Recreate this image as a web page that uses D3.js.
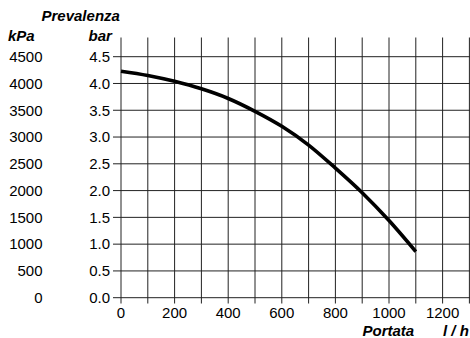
<!DOCTYPE html>
<html><head><meta charset="utf-8">
<script src="https://cdn.jsdelivr.net/npm/d3@7"></script>
<style>body{margin:0;background:#fff}svg{display:block}text{font-family:"Liberation Sans",Arial,sans-serif}</style>
</head><body>
<script>
const flow = [0,100,200,300,400,500,600,700,800,900,1000,1100];
const pressureBar = [4.23,4.15,4.04,3.9,3.72,3.48,3.2,2.85,2.42,1.96,1.44,0.86];
const barTicks = [0,0.5,1.0,1.5,2.0,2.5,3.0,3.5,4.0,4.5];
const kpaTicks = [0,500,1000,1500,2000,2500,3000,3500,4000,4500];
const xGrid = [0,100,200,300,400,500,600,700,800,900,1000,1100,1200,1300];
const xLabels = [0,200,400,600,800,1000,1200];

const W=470,H=338,FS=15;
const svg=d3.select("body").append("svg").attr("width",W).attr("height",H);
const x=d3.scaleLinear().domain([0,1300]).range([121,469.4]);
const y=d3.scaleLinear().domain([0,4.5]).range([297.7,56.7]);

// vertical grid
svg.append("g").selectAll("line").data(xGrid).join("line")
 .attr("x1",d=>x(d)).attr("x2",d=>x(d)).attr("y1",37.5).attr("y2",303.5)
 .attr("stroke","#222").attr("stroke-width",1);
// horizontal grid
svg.append("g").selectAll("line").data(barTicks).join("line")
 .attr("x1",113).attr("x2",W).attr("y1",d=>y(d)).attr("y2",d=>y(d))
 .attr("stroke","#222").attr("stroke-width",1);

// bar labels
svg.append("g").selectAll("text").data(barTicks).join("text")
 .attr("x",110).attr("y",d=>y(d)+5.3).attr("text-anchor","end")
 .attr("font-size",FS).text(d=>d.toFixed(1));
// kPa labels
svg.append("g").selectAll("text").data(kpaTicks).join("text")
 .attr("x",42.5).attr("y",(d,i)=>y(barTicks[i])+5.3).attr("text-anchor","end")
 .attr("font-size",FS).text(d=>d);
// x labels
svg.append("g").selectAll("text").data(xLabels).join("text")
 .attr("x",d=>x(d)).attr("y",317.5).attr("text-anchor","middle")
 .attr("font-size",FS).text(d=>d);

// titles
const bi=(t,xx,yy,anchor)=>svg.append("text").attr("x",xx).attr("y",yy)
 .attr("text-anchor",anchor||"start").attr("font-size",FS).attr("font-weight","bold")
 .attr("font-style","italic").text(t);
bi("Prevalenza",41.5,21);
bi("kPa",8,40.5);
bi("bar",88.5,40.5);
bi("Portata",362.5,336);
bi("l / h",443,336);

// curve
const line=d3.line().x(d=>x(d[0])).y(d=>y(d[1])).curve(d3.curveMonotoneX);
svg.append("path").datum(flow.map((f,i)=>[f,pressureBar[i]]))
 .attr("d",line).attr("fill","none").attr("stroke","#000").attr("stroke-width",3.6);
</script>
</body></html>
